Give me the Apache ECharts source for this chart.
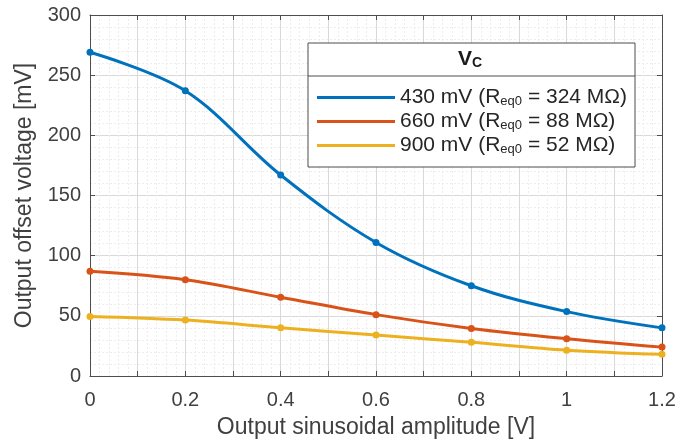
<!DOCTYPE html>
<html>
<head>
<meta charset="utf-8">
<script src="https://cdn.jsdelivr.net/npm/echarts@6/dist/echarts.min.js"></script>
<style>
  html, body { margin: 0; padding: 0; background: #fff; }
  #chart { width: 692px; height: 444px; }
</style>
</head>
<body>
<div id="chart"></div>
<script>
// amplitude [V]
let amplitude = [0, 0.2, 0.4, 0.6, 0.8, 1.0, 1.2];
// offset voltage [mV] per Vc
let vc430 = [269, 237, 167, 111, 75, 53.5, 40];
let vc660 = [87, 80, 65.5, 51, 39.5, 31, 24];
let vc900 = [49.5, 46.5, 40, 34, 28, 21.5, 18];
let seriesNames = ['430 mV', '660 mV', '900 mV'];
let reqValues = ['324', '88', '52'];
let colors = ['#0072BD', '#D95319', '#EDB120'];

(function () {
    let chart = echarts.init(document.getElementById('chart'));
    let axisColor = '#4d4d4d';
    let textColor = '#404040';
    let font = 'Liberation Sans, Arial, sans-serif';

    function pairs(ys) {
        return ys.map((y, i) => [amplitude[i], y]);
    }

    let allData = [vc430, vc660, vc900];
    let series = allData.map((d, i) => ({
        name: seriesNames[i],
        type: 'line',
        data: pairs(d),
        smooth: 0.35,
        symbol: 'circle',
        symbolSize: 7,
        lineStyle: { width: 3, color: colors[i] },
        itemStyle: { color: colors[i] },
        z: 10 - i
    }));

    let option = {
        animation: false,
        backgroundColor: '#fff',
        textStyle: { fontFamily: font },
        grid: { left: 90, right: 30, top: 15, bottom: 66 },
        xAxis: [{
            type: 'value',
            min: 0, max: 1.2, interval: 0.1,
            name: 'Output sinusoidal amplitude [V]',
            nameLocation: 'middle', nameGap: 40,
            nameTextStyle: { fontSize: 23, color: textColor },
            axisLine: { show: true, lineStyle: { color: axisColor, width: 1 } },
            axisTick: { show: true, inside: true, length: 5, lineStyle: { color: axisColor } },
            axisLabel: {
                fontSize: 20, color: textColor, margin: 14,
                formatter: v => (Math.round(v * 10) % 2 === 0 ? String(Math.round(v * 10) / 10) : '')
            },
            splitLine: { show: true, lineStyle: { color: '#d9d9d9', width: 1 } },
            minorTick: { show: false, splitNumber: 5 },
            minorSplitLine: { show: true, lineStyle: { color: '#ededed', type: [2, 2] } }
        }, {
            type: 'value', position: 'top',
            min: 0, max: 1.2, interval: 0.1,
            axisLine: { show: true, onZero: false, lineStyle: { color: axisColor } },
            axisTick: { show: true, inside: true, length: 5, lineStyle: { color: axisColor } },
            axisLabel: { show: false },
            splitLine: { show: false }
        }],
        yAxis: [{
            type: 'value',
            min: 0, max: 300, interval: 50,
            name: 'Output offset voltage [mV]',
            nameLocation: 'middle', nameGap: 54,
            nameTextStyle: { fontSize: 23, color: textColor },
            axisLine: { show: true, lineStyle: { color: axisColor } },
            axisTick: { show: true, inside: true, length: 5, lineStyle: { color: axisColor } },
            axisLabel: { fontSize: 20, color: textColor, margin: 9 },
            splitLine: { show: true, lineStyle: { color: '#d9d9d9' } },
            minorTick: { show: false, splitNumber: 5 },
            minorSplitLine: { show: true, lineStyle: { color: '#ededed', type: [2, 2] } }
        }, {
            type: 'value', position: 'right',
            min: 0, max: 300, interval: 50,
            axisLine: { show: true, onZero: false, lineStyle: { color: axisColor } },
            axisTick: { show: true, inside: true, length: 5, lineStyle: { color: axisColor } },
            axisLabel: { show: false },
            splitLine: { show: false }
        }],
        legend: {
            orient: 'vertical',
            left: 317, top: 87,
            padding: 0,
            z: 60,
            icon: 'rect',
            itemWidth: 78, itemHeight: 3,
            itemGap: 3,
            selectedMode: false,
            data: seriesNames,
            formatter: name => {
                let i = seriesNames.indexOf(name);
                return '{t|' + name + ' (R}{s|eq0}{t| = ' + reqValues[i] + ' MΩ)}';
            },
            textStyle: {
                color: '#262626',
                rich: {
                    t: { fontSize: 21, color: '#262626', fontFamily: font, lineHeight: 22 },
                    s: { fontSize: 13, color: '#262626', fontFamily: font, lineHeight: 22, padding: [8, 0, 0, 0] }
                }
            }
        },
        graphic: [{
            type: 'rect',
            shape: { x: 308, y: 43, width: 327, height: 124 },
            style: { fill: '#fff', stroke: '#4d4d4d', lineWidth: 1 },
            z: 50
        }, {
            type: 'line',
            shape: { x1: 308, y1: 76, x2: 635, y2: 76 },
            style: { stroke: '#4d4d4d', lineWidth: 1 },
            z: 51
        }, {
            type: 'text',
            left: 458, top: 49,
            style: {
                text: '{v|V}{c|C}',
                rich: {
                    v: { fontSize: 21, fontWeight: 'bold', fill: '#1a1a1a', fontFamily: font, lineHeight: 22 },
                    c: { fontSize: 14, fontWeight: 'bold', fill: '#1a1a1a', fontFamily: font, lineHeight: 22, padding: [7, 0, 0, 0] }
                }
            },
            z: 52
        }],
        series: series
    };
    chart.setOption(option);
})();
</script>
</body>
</html>
